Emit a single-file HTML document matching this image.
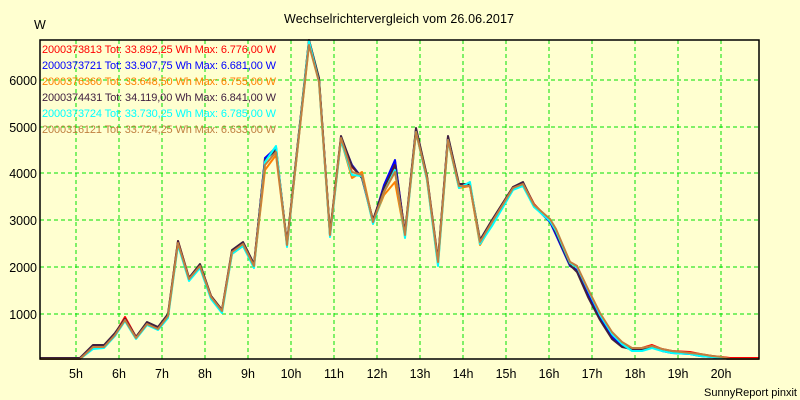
<!DOCTYPE html>
<html><head><meta charset="utf-8"><style>
html,body{margin:0;padding:0;background:#FFFFD0;}
svg{display:block;font-family:"Liberation Sans",sans-serif;}
</style></head><body>
<svg width="800" height="400" viewBox="0 0 800 400" xmlns="http://www.w3.org/2000/svg">
<rect width="800" height="400" fill="#FFFFD0"/>
<text x="284" y="23" font-size="12.5" textLength="230" fill="#000">Wechselrichtervergleich vom 26.06.2017</text>
<text x="34" y="29" font-size="12.5" fill="#000">W</text>
<g stroke="#00E000" stroke-width="1" stroke-dasharray="4,3" fill="none">
<path d="M40 80H759M40 127H759M40 173H759M40 220H759M40 267H759M40 314H759"/>
<path d="M76 40V359M119 40V359M162 40V359M205 40V359M248 40V359M291 40V359M334 40V359M377 40V359M420 40V359M463 40V359M506 40V359M549 40V359M592 40V359M635 40V359M678 40V359M721 40V359"/>
</g>
<g font-size="11" text-anchor="start">
<text x="42" y="53" fill="#FF0000" textLength="234">2000373813 Tot: 33.892,25 Wh Max: 6.776,00 W</text>
<text x="42" y="69" fill="#0000FF" textLength="234">2000373721 Tot: 33.907,75 Wh Max: 6.681,00 W</text>
<text x="42" y="85" fill="#FF8000" textLength="234">2000376360 Tot: 33.648,50 Wh Max: 6.755,00 W</text>
<text x="42" y="101" fill="#402040" textLength="234">2000374431 Tot: 34.119,00 Wh Max: 6.841,00 W</text>
<text x="42" y="117" fill="#00FFFF" textLength="234">2000373724 Tot: 33.730,25 Wh Max: 6.785,00 W</text>
<text x="42" y="133" fill="#C08040" textLength="234">2000316121 Tot: 33.724,25 Wh Max: 6.633,00 W</text>
</g>
<g fill="none" stroke-width="2" stroke-linejoin="round">
<polyline stroke="#FF0000" transform="translate(0,-1)" points="40,359 80,359 93,347 104,347 115,335 125,318 136,338 147,324 158,329 168,316 178,242 189,279 200,266 211,297 222,311 232,252 243,244 254,266 265,160 276,148 287,245 309,41 319,80 330,235 341,138 352,168 362,178 373,222 384,188 395,162 405,235 416,130 427,178 438,262 448,138 459,186 470,186 480,242 492,222 513,188 523,184 534,205 550,222 556,232 570,263 577,267 588,292 600,316 612,335 622,345 632,349 642,349 652,346 662,350 672,352 690,353 700,355 712,357 722,358 730,359 759,359"/>
<polyline stroke="#0000FF" points="40,359 80,359 93,347 104,347 115,335 125,320 136,338 147,324 158,329 168,316 178,243 189,279 200,266 211,297 222,311 232,252 243,244 254,266 265,158 276,148 287,245 309,42 319,80 330,235 341,138 352,165 362,178 373,222 384,185 395,160 405,235 416,130 427,178 438,262 448,138 459,186 470,186 480,242 492,222 513,189 523,185 534,206 550,222 556,235 570,266 577,270 588,294 600,318 612,337 622,346 632,350 642,349 652,347 662,351 672,353 690,354 700,356 712,357 722,358 730,359 759,359"/>
<polyline stroke="#FF8000" points="40,359 80,359 93,347 104,347 115,335 125,320 136,338 147,324 158,329 168,316 178,243 189,280 200,266 211,297 222,311 232,254 243,246 254,266 265,170 276,155 287,245 309,44 319,80 330,235 341,140 352,178 362,172 373,222 384,195 395,182 405,236 416,132 427,180 438,264 448,140 459,188 470,186 480,245 492,224 513,189 523,186 534,206 550,220 556,230 570,263 577,267 588,290 600,314 612,333 622,343 632,349 642,349 652,346 662,350 672,352 690,353 700,355 712,356 722,358 730,359 759,359"/>
<polyline stroke="#402040" points="40,358 80,358 93,345 104,345 115,333 125,319 136,337 147,322 158,327 168,314 178,241 189,278 200,264 211,296 222,310 232,250 243,242 254,264 265,160 276,150 287,243 309,40 319,78 330,233 341,136 352,166 362,178 373,220 384,188 395,165 405,233 416,128 427,176 438,260 448,136 459,184 470,184 480,240 492,220 513,187 523,182 534,205 550,220 556,233 570,265 577,272 588,297 600,320 612,339 622,347 632,349 642,349 652,346 662,350 672,352 690,353 700,355 712,356 722,358 730,359 759,359"/>
<polyline stroke="#00FFFF" points="40,359 80,359 93,349 104,348 115,336 125,321 136,339 147,325 158,330 168,318 178,245 189,281 200,268 211,299 222,313 232,254 243,246 254,268 265,162 276,146 287,247 309,41 319,82 330,237 341,140 352,175 362,176 373,224 384,192 395,170 405,238 416,132 427,180 438,266 448,140 459,188 470,182 480,244 492,226 513,190 523,186 534,207 550,221 556,231 570,263 577,267 588,290 600,315 612,334 622,344 632,351 642,351 652,348 662,351 672,353 690,354 700,356 712,357 722,358 730,359 759,359"/>
<polyline stroke="#C08040" points="40,359 80,359 93,347 104,347 115,335 125,320 136,338 147,324 158,329 168,316 178,243 189,279 200,266 211,297 222,311 232,252 243,244 254,266 265,165 276,152 287,245 309,45 319,82 330,235 341,138 352,172 362,175 373,222 384,192 395,172 405,235 416,132 427,178 438,262 448,140 459,186 470,186 480,242 492,222 513,188 523,184 534,205 550,219 556,229 570,262 577,266 588,289 600,313 612,332 622,342 632,348 642,348 652,346 662,349 672,351 690,353 700,354 712,356 722,357 730,359 759,359"/>
</g>
<path d="M40 40H759V359H40Z" fill="none" stroke="#000" stroke-width="1.5"/>
<g font-size="12.5" text-anchor="end" fill="#000">
<text x="37" y="85">6000</text><text x="37" y="132">5000</text><text x="37" y="178">4000</text>
<text x="37" y="225">3000</text><text x="37" y="272">2000</text><text x="37" y="319">1000</text>
</g>
<g font-size="12.5" text-anchor="middle" fill="#000">
<text x="76" y="378">5h</text><text x="119" y="378">6h</text><text x="162" y="378">7h</text><text x="205" y="378">8h</text>
<text x="248" y="378">9h</text><text x="291" y="378">10h</text><text x="334" y="378">11h</text><text x="377" y="378">12h</text>
<text x="420" y="378">13h</text><text x="463" y="378">14h</text><text x="506" y="378">15h</text><text x="549" y="378">16h</text>
<text x="592" y="378">17h</text><text x="635" y="378">18h</text><text x="678" y="378">19h</text><text x="721" y="378">20h</text>
</g>
<text x="797" y="396" font-size="11" text-anchor="end" fill="#000">SunnyReport pinxit</text>
</svg>
</body></html>
